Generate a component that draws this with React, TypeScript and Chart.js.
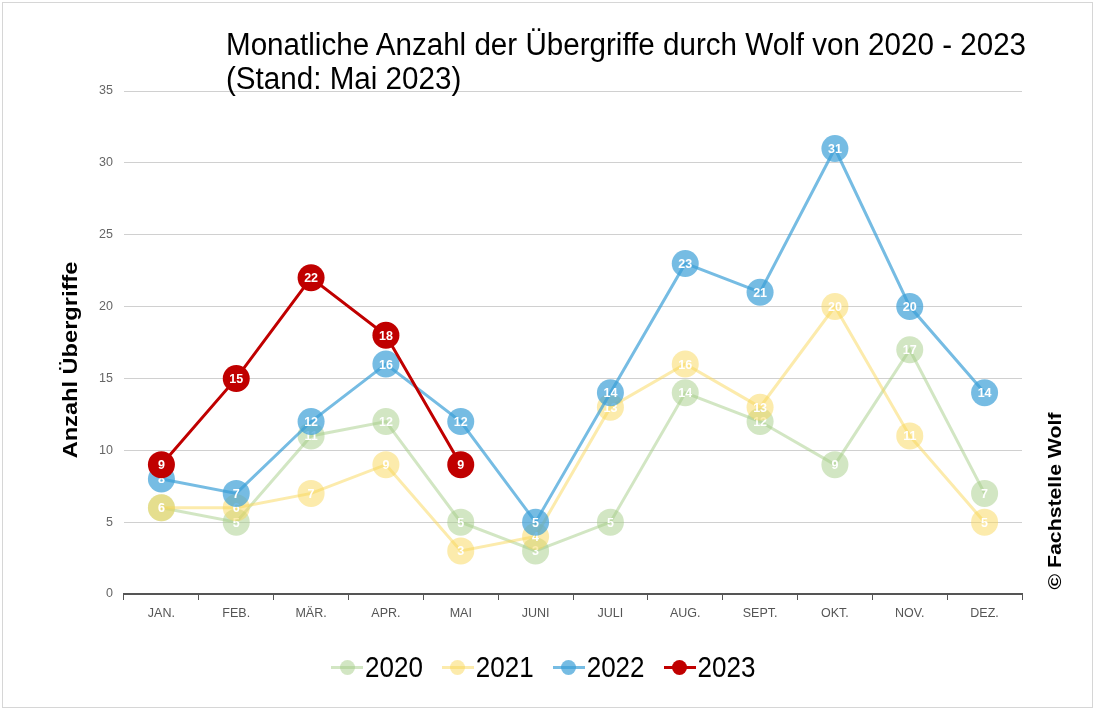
import React, { useEffect, useRef } from "react";
import { Chart, registerables } from "chart.js";

Chart.register(...registerables);

const months = ["JAN.", "FEB.", "MÄR.", "APR.", "MAI", "JUNI", "JULI", "AUG.", "SEPT.", "OKT.", "NOV.", "DEZ."];
const years = ["2020", "2021", "2022", "2023"];
const v2020 = [6, 5, 11, 12, 5, 3, 5, 14, 12, 9, 17, 7];
const v2021 = [6, 6, 7, 9, 3, 4, 13, 16, 13, 20, 11, 5];
const v2022 = [8, 7, 12, 16, 12, 5, 14, 23, 21, 31, 20, 14];
const v2023 = [9, 15, 22, 18, 9];
const yMax = 35;
const yStep = 5;

const titleLine1 = "Monatliche Anzahl der Übergriffe durch Wolf von 2020 - 2023";
const titleLine2 = "(Stand: Mai 2023)";
const yTitle = "Anzahl Übergriffe";
const copyright = "© Fachstelle Wolf";

const lineColors = ["rgba(165,205,135,0.5)", "rgba(250,215,90,0.5)", "rgba(60,160,215,0.7)", "#c00000"];
const FONT = "'Liberation Sans', Arial, sans-serif";

const labelPlugin = {
  id: "pointLabels",
  afterDatasetDraw(chart: any, args: any) {
    const ctx = chart.ctx;
    const ds = chart.data.datasets[args.index];
    ctx.save();
    ctx.font = `bold 12.5px ${FONT}`;
    ctx.fillStyle = "#ffffff";
    ctx.textAlign = "center";
    ctx.textBaseline = "middle";
    args.meta.data.forEach((pt: any, i: number) => {
      const v = ds.data[i];
      if (v === null || v === undefined) return;
      ctx.fillText(String(v), pt.x, pt.y + 1);
    });
    ctx.restore();
  },
};

const extraText = {
  id: "extraText",
  afterDraw(chart: any) {
    const ctx = chart.ctx;
    ctx.save();
    ctx.fillStyle = "#000";
    ctx.textAlign = "center";
    ctx.textBaseline = "middle";
    ctx.font = `bold 20px ${FONT}`;
    ctx.translate(71, 360);
    ctx.scale(1, 1.18);
    ctx.rotate(-Math.PI / 2);
    ctx.fillText(yTitle, 0, 0);
    ctx.restore();
    ctx.save();
    ctx.fillStyle = "#000";
    ctx.textAlign = "center";
    ctx.textBaseline = "middle";
    ctx.font = `bold 18px ${FONT}`;
    ctx.translate(1056, 501);
    ctx.scale(1, 1.18);
    ctx.rotate(-Math.PI / 2);
    ctx.fillText(copyright, 0, 0);
    ctx.restore();
  },
};

export default function App() {
  const ref = useRef<HTMLCanvasElement>(null);
  useEffect(() => {
    const series = [v2020, v2021, v2022, v2023];
    const chart = new Chart(ref.current!, {
      type: "line",
      data: {
        labels: months,
        datasets: series.map((d, i) => ({
          label: years[i],
          data: d,
          borderColor: lineColors[i],
          backgroundColor: lineColors[i],
          pointBackgroundColor: lineColors[i],
          pointBorderWidth: 0,
          pointRadius: 13.5,
          pointHoverRadius: 13.5,
          borderWidth: 3,
          tension: 0,
          order: 3 - i,
          pointStyle: "circle",
        })),
      },
      options: {
        responsive: false,
        animation: false,
        layout: { padding: { left: 54, right: 73, top: 91, bottom: 65 } },
        scales: {
          x: {
            offset: true,
            grid: { offset: true, drawOnChartArea: false, drawTicks: true, tickLength: 6, color: "#555" },
            border: { color: "#555", width: 2 },
            ticks: { color: "#555", font: { family: FONT, size: 12.5 }, padding: 6, maxRotation: 0, autoSkip: false },
            afterFit: (s: any) => { s.height = 51; },
          },
          y: {
            min: 0,
            max: yMax,
            ticks: { stepSize: yStep, color: "#666", font: { family: FONT, size: 12.5 }, padding: 11 },
            grid: { color: "#d0d0d0", lineWidth: 1, drawTicks: false },
            border: { display: false },
            afterFit: (s: any) => { s.width = 70; },
          },
        },
        plugins: {
          legend: { display: false },
          title: { display: false },
          tooltip: { enabled: false },
        },
      },
      plugins: [labelPlugin, extraText],
    });
    return () => chart.destroy();
  }, []);

  return (
    <div style={{ position: "fixed", left: 0, top: 0, width: 1095, height: 710, background: "#fff" }}>
      <canvas ref={ref} width={1095} height={710} style={{ position: "absolute", left: 0, top: 0 }} />
      <div
        style={{
          position: "absolute",
          left: 226,
          top: 28,
          fontFamily: FONT,
          fontSize: 29.6,
          lineHeight: "31.5px",
          color: "#000",
          whiteSpace: "nowrap",
          transform: "scaleY(1.05)",
          transformOrigin: "0 0",
        }}
      >
        {titleLine1}
        <br />
        {titleLine2}
      </div>
      <div
        style={{
          position: "absolute",
          left: 331,
          top: 650,
          height: 34,
          display: "flex",
          alignItems: "center",
          gap: 19,
          fontFamily: FONT,
          fontSize: 26,
          color: "#000",
          whiteSpace: "nowrap",
        }}
      >
        {years.map((y, i) => (
          <div key={y} style={{ display: "flex", alignItems: "center" }}>
            <div style={{ position: "relative", width: 32, height: 16, marginRight: 2 }}>
              <div style={{ position: "absolute", left: 0, top: 6.5, width: 32, height: 3, background: lineColors[i] }} />
              <div
                style={{
                  position: "absolute",
                  left: 8.5,
                  top: 0.5,
                  width: 15,
                  height: 15,
                  borderRadius: "50%",
                  background: lineColors[i],
                }}
              />
            </div>
            <span style={{ display: "inline-block", transform: "scaleY(1.15)" }}>{y}</span>
          </div>
        ))}
      </div>
      <div
        style={{
          position: "absolute",
          left: 2,
          top: 2,
          width: 1091,
          height: 706,
          border: "1px solid #d6d6d6",
          boxSizing: "border-box",
          pointerEvents: "none",
        }}
      />
    </div>
  );
}
